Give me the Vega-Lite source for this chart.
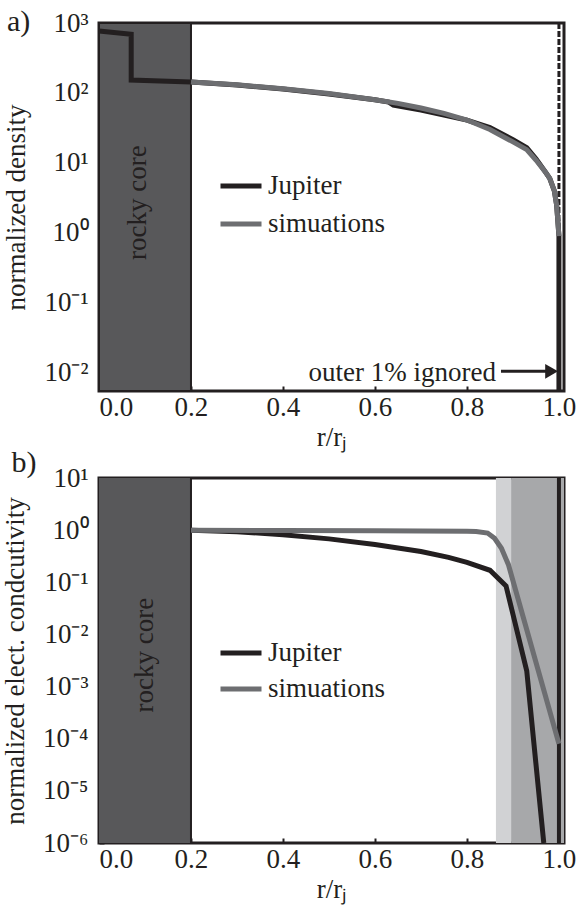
{
  "$schema": "https://vega.github.io/schema/vega-lite/v6.json",
  "padding": {"left": 0, "top": 5, "right": 5, "bottom": 5},
  "background": "white",
  "config": {
    "font": "Liberation Serif",
    "view": {"stroke": "#231f20", "strokeWidth": 3},
    "axis": {
      "labelFont": "Liberation Serif", "titleFont": "Liberation Serif",
      "labelFontSize": 27, "titleFontSize": 27, "titleFontWeight": "normal",
      "labelColor": "#231f20", "titleColor": "#231f20",
      "domain": false, "grid": false, "tickColor": "#231f20", "tickWidth": 2, "tickSize": -5, "labelPadding": 16
    },
    "legend": {"labelFont": "Liberation Serif", "labelFontSize": 27, "labelColor": "#231f20"},
    "text": {"font": "Liberation Serif"},
    "title": {"font": "Liberation Serif", "fontSize": 30, "fontWeight": "normal", "color": "#231f20", "anchor": "start", "frame": "bounds"}
  },
  "datasets": {
    "dens": [
      {"i": 1, "r": 0.0, "v": 770, "series": "Jupiter"},
      {"i": 2, "r": 0.07, "v": 690, "series": "Jupiter"},
      {"i": 3, "r": 0.07, "v": 153, "series": "Jupiter"},
      {"i": 4, "r": 0.2, "v": 144, "series": "Jupiter"},
      {"i": 5, "r": 0.3, "v": 130, "series": "Jupiter"},
      {"i": 6, "r": 0.4, "v": 114, "series": "Jupiter"},
      {"i": 7, "r": 0.5, "v": 97, "series": "Jupiter"},
      {"i": 8, "r": 0.6, "v": 80, "series": "Jupiter"},
      {"i": 9, "r": 0.63, "v": 74, "series": "Jupiter"},
      {"i": 10, "r": 0.64, "v": 67, "series": "Jupiter"},
      {"i": 11, "r": 0.7, "v": 57, "series": "Jupiter"},
      {"i": 12, "r": 0.8, "v": 41, "series": "Jupiter"},
      {"i": 13, "r": 0.85, "v": 32, "series": "Jupiter"},
      {"i": 14, "r": 0.9, "v": 21.5, "series": "Jupiter"},
      {"i": 15, "r": 0.93, "v": 16.5, "series": "Jupiter"},
      {"i": 16, "r": 0.95, "v": 11.5, "series": "Jupiter"},
      {"i": 17, "r": 0.97, "v": 7.5, "series": "Jupiter"},
      {"i": 18, "r": 0.98, "v": 6, "series": "Jupiter"},
      {"i": 19, "r": 0.99, "v": 4, "series": "Jupiter"},
      {"i": 20, "r": 0.995, "v": 2.5, "series": "Jupiter"},
      {"i": 21, "r": 1.0, "v": 0.9, "series": "Jupiter"},
      {"i": 22, "r": 1.0, "v": 0.0055, "series": "Jupiter"},
      {"i": 1, "r": 0.2, "v": 144, "series": "simuations"},
      {"i": 2, "r": 0.3, "v": 131, "series": "simuations"},
      {"i": 3, "r": 0.4, "v": 115, "series": "simuations"},
      {"i": 4, "r": 0.5, "v": 98, "series": "simuations"},
      {"i": 5, "r": 0.6, "v": 80, "series": "simuations"},
      {"i": 6, "r": 0.65, "v": 71, "series": "simuations"},
      {"i": 7, "r": 0.7, "v": 61, "series": "simuations"},
      {"i": 8, "r": 0.75, "v": 51, "series": "simuations"},
      {"i": 9, "r": 0.8, "v": 41, "series": "simuations"},
      {"i": 10, "r": 0.85, "v": 30, "series": "simuations"},
      {"i": 11, "r": 0.9, "v": 20, "series": "simuations"},
      {"i": 12, "r": 0.93, "v": 15.5, "series": "simuations"},
      {"i": 13, "r": 0.95, "v": 11, "series": "simuations"},
      {"i": 14, "r": 0.97, "v": 7.5, "series": "simuations"},
      {"i": 15, "r": 0.98, "v": 6, "series": "simuations"},
      {"i": 16, "r": 0.99, "v": 4, "series": "simuations"},
      {"i": 17, "r": 0.995, "v": 2.5, "series": "simuations"},
      {"i": 18, "r": 1.0, "v": 0.9, "series": "simuations"}
    ],
    "cond": [
      {"i": 1, "r": 0.2, "v": 1.0, "series": "Jupiter"},
      {"i": 2, "r": 0.3, "v": 0.93, "series": "Jupiter"},
      {"i": 3, "r": 0.4, "v": 0.82, "series": "Jupiter"},
      {"i": 4, "r": 0.5, "v": 0.68, "series": "Jupiter"},
      {"i": 5, "r": 0.6, "v": 0.53, "series": "Jupiter"},
      {"i": 6, "r": 0.7, "v": 0.39, "series": "Jupiter"},
      {"i": 7, "r": 0.76, "v": 0.3, "series": "Jupiter"},
      {"i": 8, "r": 0.8, "v": 0.24, "series": "Jupiter"},
      {"i": 9, "r": 0.85, "v": 0.17, "series": "Jupiter"},
      {"i": 10, "r": 0.885, "v": 0.085, "series": "Jupiter"},
      {"i": 11, "r": 0.93, "v": 0.002, "series": "Jupiter"},
      {"i": 12, "r": 0.967, "v": 0.000001, "series": "Jupiter"},
      {"i": 1, "r": 0.2, "v": 1.0, "series": "simuations"},
      {"i": 2, "r": 0.4, "v": 0.98, "series": "simuations"},
      {"i": 3, "r": 0.6, "v": 0.97, "series": "simuations"},
      {"i": 4, "r": 0.8, "v": 0.95, "series": "simuations"},
      {"i": 5, "r": 0.82, "v": 0.94, "series": "simuations"},
      {"i": 6, "r": 0.845, "v": 0.88, "series": "simuations"},
      {"i": 7, "r": 0.86, "v": 0.7, "series": "simuations"},
      {"i": 8, "r": 0.875, "v": 0.45, "series": "simuations"},
      {"i": 9, "r": 0.89, "v": 0.22, "series": "simuations"},
      {"i": 10, "r": 1.0, "v": 0.00008, "series": "simuations"}
    ]
  },
  "vconcat": [
    {
      "width": 465, "height": 368,
      "title": {"text": "a)", "offset": -28, "dx": 4},
      "layer": [
        {
          "data": {"values": [{"a": 0, "b": 0.2}]},
          "mark": {"type": "rect", "color": "#58585a", "stroke": "#231f20", "strokeWidth": 2},
          "encoding": {
            "x": {"field": "a", "type": "quantitative", "scale": {"domain": [0, 1.011], "nice": false, "zero": false},
                  "axis": {"values": [0, 0.2, 0.4, 0.6, 0.8, 1.0], "format": ".1f", "title": "r/rⱼ", "titlePadding": 4, "labelPadding": 8}},
            "x2": {"field": "b"}
          }
        },
        {
          "data": {"values": [{"r": 1.0}]},
          "mark": {"type": "rule", "color": "#231f20", "strokeWidth": 3, "strokeDash": [6, 2]},
          "encoding": {"x": {"field": "r", "type": "quantitative"}}
        },
        {
          "data": {"values": [{"r": 0.085, "v": 2.7, "t": "rocky core"}]},
          "mark": {"type": "text", "angle": 270, "fontSize": 27, "color": "#231f20", "baseline": "middle", "align": "center"},
          "encoding": {
            "x": {"field": "r", "type": "quantitative"},
            "y": {"field": "v", "type": "quantitative"},
            "text": {"field": "t"}
          }
        },
        {
          "data": {"name": "dens"},
          "mark": {"type": "line", "strokeWidth": 5},
          "encoding": {
            "x": {"field": "r", "type": "quantitative"},
            "y": {"field": "v", "type": "quantitative",
                  "scale": {"type": "log", "domain": [0.0055, 1000], "nice": false},
                  "axis": {"values": [0.01, 0.1, 1, 10, 100, 1000], "title": "normalized density", "titlePadding": 13,
                           "labelExpr": "'10' + ['⁻⁶','⁻⁵','⁻⁴','⁻³','⁻²','⁻¹','⁰','¹','²','³'][round(log(datum.value)/LN10)+6]"}},
            "color": {"field": "series", "type": "nominal",
                      "scale": {"domain": ["Jupiter", "simuations"], "range": ["#231f20", "#6d6e71"]},
                      "legend": {"title": null, "orient": "none", "legendX": 119, "legendY": 140, "symbolType": "stroke",
                                 "symbolStrokeWidth": 5, "symbolSize": 1681, "rowPadding": 2, "labelOffset": 4}},
            "order": {"field": "i", "type": "quantitative"}
          }
        },
        {
          "data": {"values": [{"r": 0.863, "v": 0.01, "t": "outer 1% ignored"}]},
          "mark": {"type": "text", "fontSize": 27, "color": "#231f20", "align": "right", "baseline": "middle"},
          "encoding": {
            "x": {"field": "r", "type": "quantitative"},
            "y": {"field": "v", "type": "quantitative"},
            "text": {"field": "t"}
          }
        },
        {
          "data": {"values": [{"a": 0.874, "b": 0.982, "v": 0.0105}]},
          "mark": {"type": "rule", "color": "#231f20", "strokeWidth": 3},
          "encoding": {
            "x": {"field": "a", "type": "quantitative"},
            "x2": {"field": "b"},
            "y": {"field": "v", "type": "quantitative"}
          }
        },
        {
          "data": {"values": [{"r": 0.984, "v": 0.0105}]},
          "mark": {"type": "point", "shape": "triangle-right", "filled": true, "color": "#231f20", "size": 220, "opacity": 1},
          "encoding": {
            "x": {"field": "r", "type": "quantitative"},
            "y": {"field": "v", "type": "quantitative"}
          }
        }
      ]
    },
    {
      "width": 465, "height": 365,
      "title": {"text": "b)", "offset": -14, "dx": 10},
      "layer": [
        {
          "data": {"values": [{"a": 0, "b": 0.2, "c": "#58585a"}, {"a": 0.863, "b": 0.896, "c": "#d1d2d4"}, {"a": 0.896, "b": 1.011, "c": "#a7a8aa"}]},
          "mark": {"type": "rect"},
          "encoding": {
            "x": {"field": "a", "type": "quantitative", "scale": {"domain": [0, 1.011], "nice": false, "zero": false},
                  "axis": {"values": [0, 0.2, 0.4, 0.6, 0.8, 1.0], "format": ".1f", "title": "r/rⱼ", "titlePadding": 4, "labelPadding": 8}},
            "x2": {"field": "b"},
            "color": {"field": "c", "type": "nominal", "scale": null}
          }
        },
        {
          "data": {"values": [{"r": 0.2}]},
          "mark": {"type": "rule", "color": "#231f20", "strokeWidth": 2},
          "encoding": {"x": {"field": "r", "type": "quantitative"}}
        },
        {
          "data": {"values": [{"r": 1.0}]},
          "mark": {"type": "rule", "color": "#231f20", "strokeWidth": 4},
          "encoding": {"x": {"field": "r", "type": "quantitative"}}
        },
        {
          "data": {"values": [{"r": 0.1, "v": 0.004, "t": "rocky core"}]},
          "mark": {"type": "text", "angle": 270, "fontSize": 27, "color": "#231f20", "baseline": "middle", "align": "center"},
          "encoding": {
            "x": {"field": "r", "type": "quantitative"},
            "y": {"field": "v", "type": "quantitative"},
            "text": {"field": "t"}
          }
        },
        {
          "data": {"name": "cond"},
          "mark": {"type": "line", "strokeWidth": 5},
          "encoding": {
            "x": {"field": "r", "type": "quantitative"},
            "y": {"field": "v", "type": "quantitative",
                  "scale": {"type": "log", "domain": [0.000001, 10], "nice": false},
                  "axis": {"values": [0.000001, 0.00001, 0.0001, 0.001, 0.01, 0.1, 1, 10], "title": "normalized elect. condcutivity", "titlePadding": 13,
                           "labelExpr": "'10' + ['⁻⁶','⁻⁵','⁻⁴','⁻³','⁻²','⁻¹','⁰','¹','²','³'][round(log(datum.value)/LN10)+6]"}},
            "color": {"field": "series", "type": "nominal",
                      "scale": {"domain": ["Jupiter", "simuations"], "range": ["#231f20", "#6d6e71"]},
                      "legend": {"title": null, "orient": "none", "legendX": 119, "legendY": 152, "symbolType": "stroke",
                                 "symbolStrokeWidth": 5, "symbolSize": 1681, "rowPadding": -5, "labelOffset": 4}},
            "order": {"field": "i", "type": "quantitative"}
          }
        }
      ]
    }
  ],
  "spacing": -6,
  "resolve": {"scale": {"color": "independent", "y": "independent"}, "legend": {"color": "independent"}}
}
